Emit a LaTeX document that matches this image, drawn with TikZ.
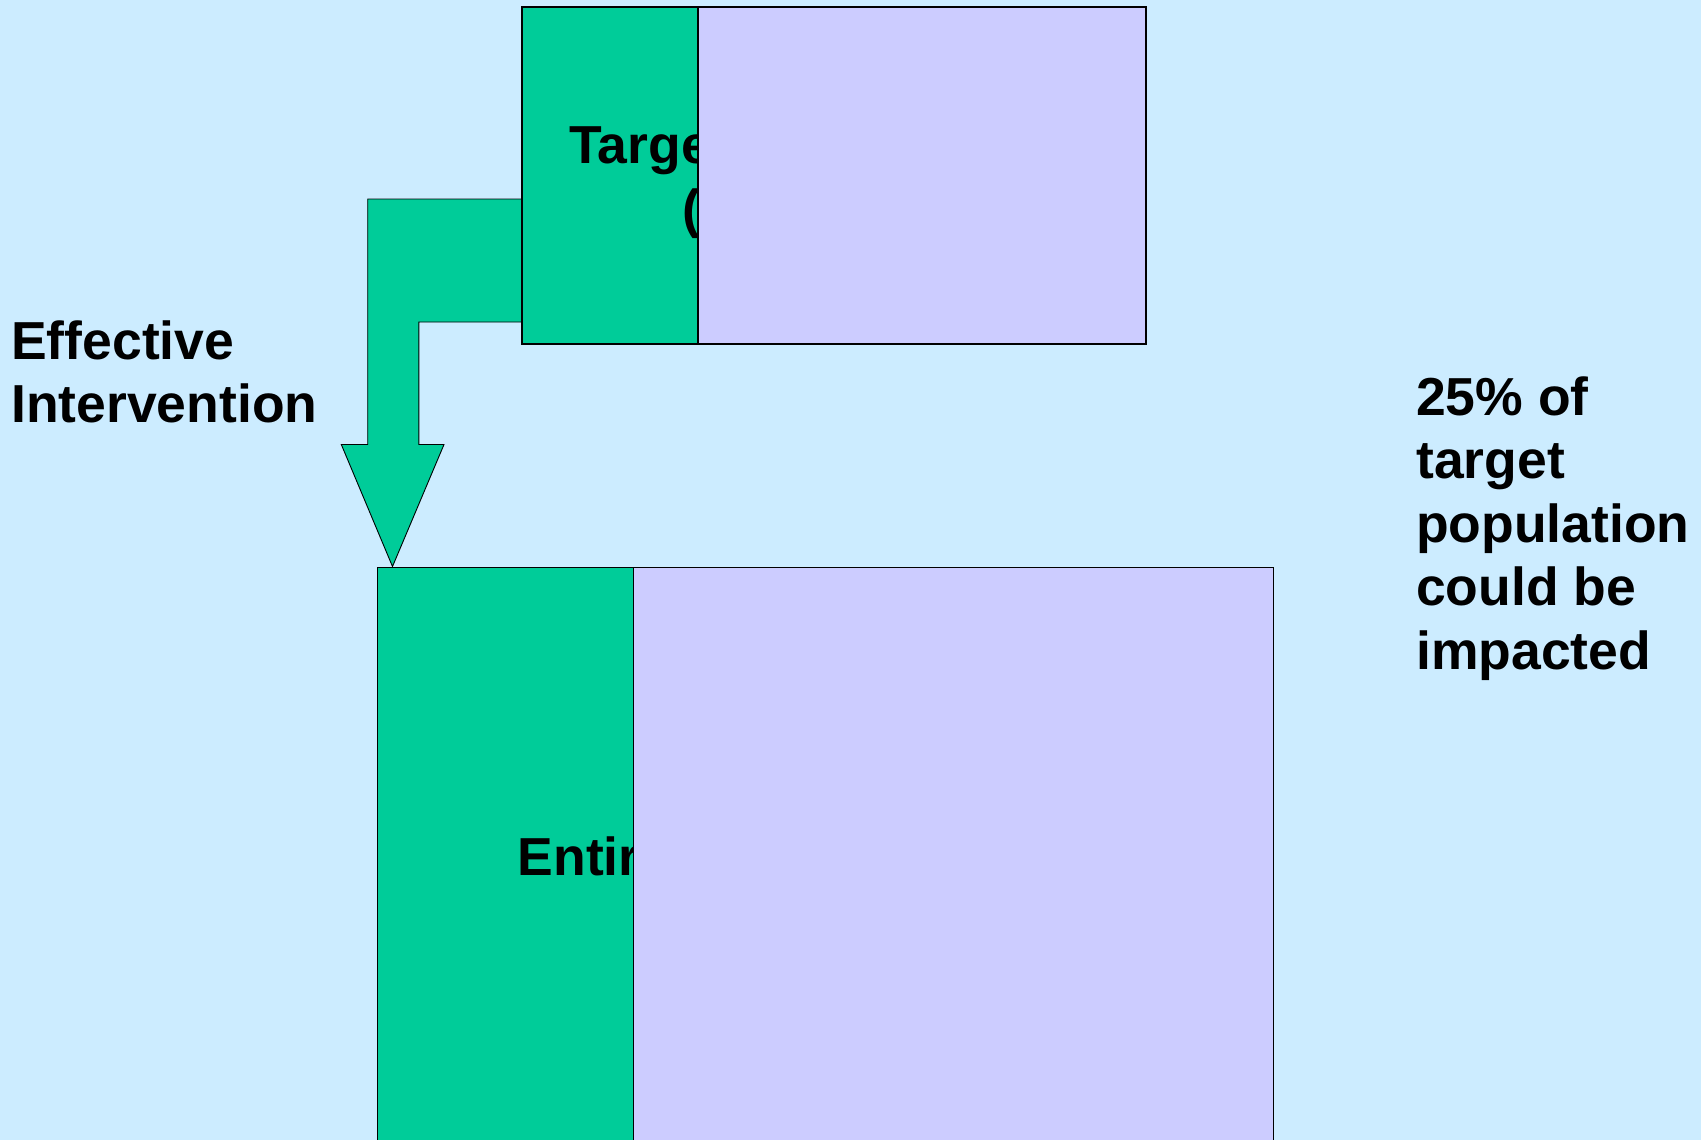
\documentclass[tikz,border=0pt]{standalone}
\usepackage{fontspec}
\setmainfont{Liberation Sans}
\definecolor{bgblue}{RGB}{204,236,255}
\definecolor{boxgreen}{RGB}{0,204,153}
\definecolor{boxpurple}{RGB}{204,204,255}
\begin{document}
\begin{tikzpicture}[x=1pt,y=-1pt,
  greenbox/.style={fill=boxgreen,draw=black,line width=1.8pt},
  purplebox/.style={fill=boxpurple,draw=black,line width=1.8pt},
  arrowshape/.style={fill=boxgreen,draw=black,line width=0.9pt,line join=miter},
  label/.style={inner sep=0pt,anchor=base west,align=left,font=\fontsize{53.5}{63.5}\selectfont\bfseries}]
\useasboundingbox (0,0) rectangle (1701,1140);
\clip (0,0) rectangle (1701,1140);
\fill[bgblue] (0,0) rectangle (1701,1140);
% bent arrow
\coordinate (a1) at (367.7,199);
\coordinate (a2) at (530,199);
\coordinate (a3) at (530,322);
\coordinate (a4) at (418.8,322);
\coordinate (a5) at (418.8,444.5);
\coordinate (a6) at (444,444.5);
\coordinate (tip) at (392.5,566.5);
\coordinate (a8) at (341.3,444.5);
\coordinate (a9) at (367.7,444.5);
\draw[arrowshape] (a1) -- (a2) -- (a3) -- (a4) -- (a5) -- (a6) -- (tip) -- (a8) -- (a9) -- cycle;
% top box
\node[greenbox,anchor=north west,minimum width=176pt,minimum height=336.5pt,inner sep=0pt] (tg) at (521,6.5) {};
\node[label] (tt) at (569,163.5) {Target};
\node[label] (tp) at (682,227) {(};
\node[purplebox,anchor=north west,minimum width=448pt,minimum height=336.5pt,inner sep=0pt] (tpur) at (697,6.5) {};
% bottom box
\node[greenbox,anchor=north west,minimum width=256pt,minimum height=620pt,inner sep=0pt] (bg) at (376.5,566.5) {};
\node[label] (be) at (517.5,875) {Entire};
\node[purplebox,anchor=north west,minimum width=640pt,minimum height=620pt,inner sep=0pt] (bpur) at (632.5,566.5) {};
% side texts (base anchor = last line)
\node[label] (eff) at (11,422.5) {Effective\\Intervention};
\node[label] (pct) at (1416,669) {25\% of\\target\\population\\could be\\impacted};
\end{tikzpicture}
\end{document}
